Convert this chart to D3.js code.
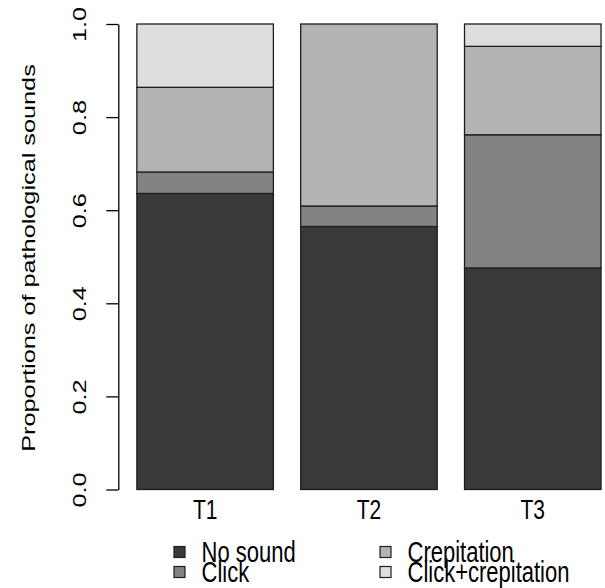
<!DOCTYPE html>
<html>
<head>
<meta charset="utf-8">
<script src="https://cdn.jsdelivr.net/npm/d3@7"></script>
<style>
  body { margin: 0; background: #fff; }
  text { font-family: "Liberation Sans", Arial, sans-serif; fill: #000; }
</style>
</head>
<body>
<div id="chart"></div>
<script>
// data (proportions per time point)
var categories = ["T1", "T2", "T3"];
var seriesNames = ["No sound", "Click", "Crepitation", "Click+crepitation"];
var noSound = [0.636, 0.565, 0.476];
var click = [0.046, 0.044, 0.286];
var crepitation = [0.182, 0.391, 0.190];
var clickCrepitation = [0.136, 0.000, 0.048];
var yTicks = [0, 0.2, 0.4, 0.6, 0.8, 1.0];
var fills = ["#393939", "#838383", "#b4b4b4", "#dedede"];

var svgWidth = 605;
var svgHeight = 588;

var svg = d3.select("#chart")
  .append("svg")
  .attr("width", svgWidth)
  .attr("height", svgHeight);

// table for the stack layout
var table = categories.map(function(c, i) {
  return {
    cat: c,
    "No sound": noSound[i],
    "Click": click[i],
    "Crepitation": crepitation[i],
    "Click+crepitation": clickCrepitation[i]
  };
});
var stacked = d3.stack().keys(seriesNames)(table);

// R barplot style: bar width 1, space 0.2, axis range padded by 4%
var x = d3.scaleLinear().domain([0.064, 3.736]).range([118.3, 619.6]);
var y = d3.scaleLinear().domain([0, 1]).range([489.5, 24]);
function barLeft(i) { return 0.2 + i * 1.2; }

// bars
var layers = svg.selectAll("g.layer")
  .data(stacked)
  .enter()
  .append("g")
  .attr("class", "layer")
  .attr("fill", function(d, i) { return fills[i]; });

layers.selectAll("rect")
  .data(function(d) { return d; })
  .enter()
  .append("rect")
  .attr("x", function(d, i) { return x(barLeft(i)); })
  .attr("width", function(d, i) { return x(barLeft(i) + 1) - x(barLeft(i)); })
  .attr("y", function(d) { return y(d[1]); })
  .attr("height", function(d) { return y(d[0]) - y(d[1]); })
  .attr("stroke", "#1e1e1e")
  .attr("stroke-width", 1.3);

// y axis
var yAxis = svg.append("g")
  .attr("transform", "translate(" + x(0.064) + ",0)")
  .call(d3.axisLeft(y).tickValues(yTicks).tickSize(12).tickSizeOuter(0).tickFormat(d3.format(".1f")));

yAxis.select(".domain").attr("stroke", "#000").attr("stroke-width", 1.3);
yAxis.selectAll(".tick line").attr("stroke", "#000").attr("stroke-width", 1.3);
yAxis.selectAll(".tick text")
  .attr("x", null)
  .attr("dy", null)
  .attr("font-size", 19)
  .attr("text-anchor", "middle")
  .attr("fill", "#222")
  .attr("transform", "translate(-32,0) rotate(-90) scale(1.33,1)");

// y axis title
svg.append("text")
  .attr("transform", "translate(35,258) rotate(-90) scale(1.33,1)")
  .attr("text-anchor", "middle")
  .attr("font-size", 19)
  .attr("fill", "#222")
  .text("Proportions of pathological sounds");

// category labels
svg.selectAll("text.cat")
  .data(categories)
  .enter()
  .append("text")
  .attr("class", "cat")
  .attr("text-anchor", "middle")
  .attr("font-size", 21)
  .attr("fill", "#222")
  .attr("transform", function(d, i) {
    return "translate(" + x(barLeft(i) + 0.5) + ",519) scale(1,1.3)";
  })
  .text(function(d) { return d; });

// legend, two columns
var legendX = [174, 380];
var legendY = [552, 572];
var legend = svg.selectAll("g.legend")
  .data(seriesNames)
  .enter()
  .append("g")
  .attr("class", "legend")
  .attr("transform", function(d, i) {
    return "translate(" + legendX[Math.floor(i / 2)] + "," + legendY[i % 2] + ")";
  });

legend.append("rect")
  .attr("x", 0)
  .attr("y", -5.5)
  .attr("width", 11)
  .attr("height", 11)
  .attr("fill", function(d, i) { return fills[i]; })
  .attr("stroke", "#1e1e1e")
  .attr("stroke-width", 1.2);

legend.append("text")
  .attr("transform", "translate(27.5,9.5) scale(1,1.3)")
  .attr("font-size", 22)
  .attr("fill", "#222")
  .text(function(d) { return d; });
</script>
</body>
</html>
